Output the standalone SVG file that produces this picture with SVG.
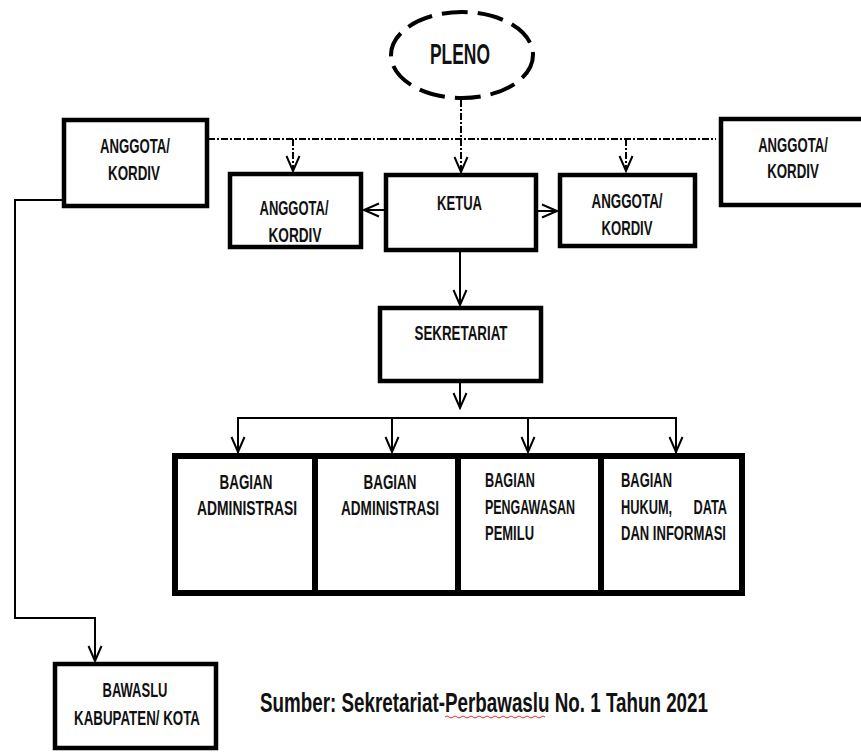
<svg xmlns="http://www.w3.org/2000/svg" width="861" height="752" viewBox="0 0 861 752">
<style>
.box{fill:#fff;stroke:#000;stroke-width:4.5}
.bbox{fill:#fff;stroke:#000;stroke-width:6}
.t{font-family:"Liberation Sans",Arial,sans-serif;font-weight:bold;font-size:20.5px;fill:#111}
.big{font-size:30px}
.src{font-size:28px}
.ln{fill:none;stroke:#000;stroke-width:2}
.dd{fill:none;stroke:#000;stroke-width:2;stroke-dasharray:7 2 2 2}
</style>
<defs>
<marker id="ah" markerWidth="18" markerHeight="18" refX="16" refY="8" orient="auto" markerUnits="userSpaceOnUse">
<path d="M1,1.5 L16,8 L1,14.5" fill="none" stroke="#000" stroke-width="2"/>
</marker>
</defs>
<g id="connectors">
<line class="dd" x1="461" y1="100" x2="461" y2="139"/>
<line class="dd" x1="208" y1="139" x2="716" y2="139"/>
<line class="dd" x1="293" y1="139" x2="293" y2="171" marker-end="url(#ah)"/>
<line class="dd" x1="461" y1="139" x2="461" y2="172" marker-end="url(#ah)"/>
<line class="dd" x1="626" y1="139" x2="626" y2="171" marker-end="url(#ah)"/>
<line class="ln" x1="385" y1="210" x2="364" y2="210" marker-end="url(#ah)"/>
<line class="ln" x1="537" y1="211" x2="557" y2="211" marker-end="url(#ah)"/>
<line class="ln" x1="460" y1="252" x2="460" y2="305" marker-end="url(#ah)"/>
<line class="ln" x1="460" y1="383" x2="460" y2="408" marker-end="url(#ah)"/>
<polyline class="ln" points="238,453 238,418 676,418 676,453"/>
<line class="ln" x1="238" y1="418" x2="238" y2="452" marker-end="url(#ah)"/>
<line class="ln" x1="392" y1="418" x2="392" y2="452" marker-end="url(#ah)"/>
<line class="ln" x1="528" y1="418" x2="528" y2="452" marker-end="url(#ah)"/>
<line class="ln" x1="676" y1="418" x2="676" y2="452" marker-end="url(#ah)"/>
<polyline class="ln" points="64,200 15,200 15,618 95,618 95,661" marker-end="url(#ah)"/>
</g>
<g id="pleno">
<ellipse cx="462" cy="55" rx="71" ry="43" fill="#fff" stroke="#000" stroke-width="4" stroke-dasharray="26 10"/>
<text class="t big" x="460" y="64" text-anchor="middle" textLength="60" lengthAdjust="spacingAndGlyphs">PLENO</text>
</g>
<g id="anggota-kiri-atas">
<rect class="box" x="64" y="120" width="143" height="86"/>
<text class="t" x="135" y="153" text-anchor="middle" textLength="70" lengthAdjust="spacingAndGlyphs">ANGGOTA/</text>
<text class="t" x="134" y="180" text-anchor="middle" textLength="52" lengthAdjust="spacingAndGlyphs">KORDIV</text>
</g>
<g id="anggota-kanan-atas">
<rect class="box" x="721" y="119" width="143" height="86"/>
<text class="t" transform="translate(793,152) scale(0.75,1)" text-anchor="middle" textLength="93" lengthAdjust="spacingAndGlyphs">ANGGOTA/</text>
<text class="t" transform="translate(793,178) scale(0.75,1)" text-anchor="middle" textLength="69" lengthAdjust="spacingAndGlyphs">KORDIV</text>
</g>
<g id="anggota-kiri">
<rect class="box" x="230" y="174" width="131" height="73"/>
<text class="t" x="294" y="215" text-anchor="middle" textLength="69" lengthAdjust="spacingAndGlyphs">ANGGOTA/</text>
<text class="t" x="295" y="242" text-anchor="middle" textLength="53" lengthAdjust="spacingAndGlyphs">KORDIV</text>
</g>
<g id="ketua">
<rect class="box" x="386" y="175" width="150" height="75"/>
<text class="t" x="437" y="210" textLength="45" lengthAdjust="spacingAndGlyphs">KETUA</text>
</g>
<g id="anggota-kanan">
<rect class="box" x="560" y="175" width="135" height="71"/>
<text class="t" x="627" y="208" text-anchor="middle" textLength="71" lengthAdjust="spacingAndGlyphs">ANGGOTA/</text>
<text class="t" x="627" y="235" text-anchor="middle" textLength="51" lengthAdjust="spacingAndGlyphs">KORDIV</text>
</g>
<g id="sekretariat">
<rect class="box" x="380" y="308" width="161" height="73"/>
<text class="t" x="461" y="340" text-anchor="middle" textLength="93" lengthAdjust="spacingAndGlyphs">SEKRETARIAT</text>
</g>
<g id="bagian-administrasi-1">
<rect class="bbox" x="175" y="456" width="140" height="137"/>
<text class="t" x="246" y="489" text-anchor="middle" textLength="53" lengthAdjust="spacingAndGlyphs">BAGIAN</text>
<text class="t" x="247" y="515" text-anchor="middle" textLength="100" lengthAdjust="spacingAndGlyphs">ADMINISTRASI</text>
</g>
<g id="bagian-administrasi-2">
<rect class="bbox" x="315" y="456" width="143" height="137"/>
<text class="t" x="390" y="489" text-anchor="middle" textLength="53" lengthAdjust="spacingAndGlyphs">BAGIAN</text>
<text class="t" x="390" y="515" text-anchor="middle" textLength="98" lengthAdjust="spacingAndGlyphs">ADMINISTRASI</text>
</g>
<g id="bagian-pengawasan">
<rect class="bbox" x="458" y="456" width="143" height="137"/>
<text class="t" x="485" y="487" textLength="50" lengthAdjust="spacingAndGlyphs">BAGIAN</text>
<text class="t" x="485" y="514" textLength="90" lengthAdjust="spacingAndGlyphs">PENGAWASAN</text>
<text class="t" x="485" y="540" textLength="49" lengthAdjust="spacingAndGlyphs">PEMILU</text>
</g>
<g id="bagian-hukum">
<rect class="bbox" x="601" y="456" width="141" height="137"/>
<text class="t" x="621" y="487" textLength="51" lengthAdjust="spacingAndGlyphs">BAGIAN</text>
<text class="t" x="621" y="514" textLength="106" lengthAdjust="spacingAndGlyphs">HUKUM,&#160;&#160;&#160;&#160;&#160;&#160;DATA</text>
<text class="t" x="621" y="540" textLength="105" lengthAdjust="spacingAndGlyphs">DAN INFORMASI</text>
</g>
<g id="bawaslu">
<rect class="box" x="55" y="664" width="161" height="84"/>
<text class="t" x="135" y="697" text-anchor="middle" textLength="65" lengthAdjust="spacingAndGlyphs">BAWASLU</text>
<text class="t" x="137" y="725" text-anchor="middle" textLength="126" lengthAdjust="spacingAndGlyphs">KABUPATEN/ KOTA</text>
</g>
<g id="sumber">
<text class="t src" transform="translate(260,712) scale(0.7,1)" x="0" y="0" textLength="640" lengthAdjust="spacingAndGlyphs">Sumber: Sekretariat-Perbawaslu No. 1 Tahun 2021</text>
<path d="M445,717 q2,-2 4,0 t4,0 t4,0 t4,0 t4,0 t4,0 t4,0 t4,0 t4,0 t4,0 t4,0 t4,0 t4,0 t4,0 t4,0 t4,0 t4,0 t4,0 t4,0 t4,0 t4,0 t4,0 t4,0 t4,0 t4,0" fill="none" stroke="#e03030" stroke-width="1"/>
</g>
</svg>
